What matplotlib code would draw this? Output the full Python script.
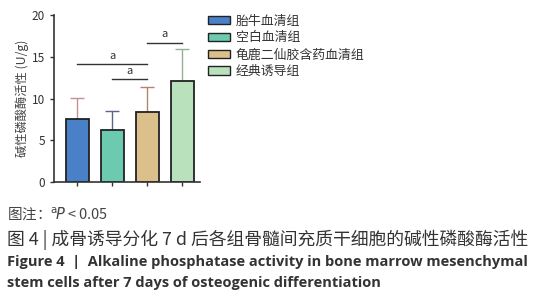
import matplotlib
matplotlib.use('Agg')
from matplotlib import pyplot as plt
from matplotlib.patches import Patch

plt.rcParams['font.family'] = ['Noto Sans CJK SC', 'DejaVu Sans']

# 数据
groups = ['胎牛血清组', '空白血清组', '龟鹿二仙胶含药血清组', '经典诱导组']
means = [7.5, 6.2, 8.4, 12.1]
errs = [2.6, 2.3, 3.0, 3.8]
colors = ['#4a80c8', '#6ccab0', '#dcc08c', '#b9e1bb']
err_colors = ['#c98f8f', '#5e6486', '#b3836f', '#98ae98']
yticks = [0, 5, 10, 15, 20]
# 显著性标注: (起点组, 终点组, 线的高度)
sig_pairs = [(0, 2, 14.1), (1, 2, 12.3), (2, 3, 16.7)]

fig = plt.figure(figsize=(5.42, 3.0), dpi=100)
ax = fig.add_axes([0.0996, 0.393, 0.27, 0.557])

x = list(range(len(groups)))
for i in x:
    ax.bar(i, means[i], width=0.66, color=colors[i], edgecolor='#222222',
           linewidth=1.3, zorder=2)
    ax.errorbar(i, means[i], yerr=[[0], [errs[i]]], fmt='none',
                ecolor=err_colors[i], elinewidth=1.0, capsize=5, capthick=1.0,
                zorder=1)

for a, b, h in sig_pairs:
    ax.plot([a, b], [h, h], color='#333333', linewidth=1.0)
    ax.text((a + b) / 2, h + 0.45, 'a', ha='center', va='bottom',
            fontsize=8, color='#333333')

ax.set_xlim(-0.66, 3.51)
ax.set_ylim(0, 20)
ax.set_yticks(yticks)
ax.set_xticks(x)
ax.set_xticklabels([])
ax.tick_params(axis='both', colors='#333333', labelsize=8.5, width=1.0, length=3)
ax.spines['top'].set_visible(False)
ax.spines['right'].set_visible(False)
for s in ['left', 'bottom']:
    ax.spines[s].set_linewidth(1.2)
    ax.spines[s].set_color('#333333')
ax.set_ylabel('碱性磷酸酶活性 (U/g)', fontsize=8.8, color='#444444', labelpad=2)

handles = [Patch(facecolor=c, edgecolor='#222222', linewidth=1.0) for c in colors]
fig.legend(handles, groups, loc='upper left', bbox_to_anchor=(0.362, 0.99),
           frameon=False, fontsize=9.3, handlelength=1.7, handleheight=0.65,
           labelspacing=0.3, handletextpad=0.45, labelcolor='#333333')

# 图注
fig.text(0.012, 0.285, '图注：$^{\\mathrm{a}}\\!\\it{P}$ < 0.05', fontsize=10.5,
         color='#444444', va='center')
fig.text(0.012, 0.2, '图 4 | 成骨诱导分化 7 d 后各组骨髓间充质干细胞的碱性磷酸酶活性',
         fontsize=12.8, color='#333333', va='center')
fig.text(0.012, 0.127, 'Figure 4  |  Alkaline phosphatase activity in bone marrow mesenchymal',
         fontsize=10.5, fontweight='bold', color='#333333', va='center',
         family=['Open Sans', 'DejaVu Sans'])
fig.text(0.012, 0.057, 'stem cells after 7 days of osteogenic differentiation',
         fontsize=10.5, fontweight='bold', color='#333333', va='center',
         family=['Open Sans', 'DejaVu Sans'])

fig.savefig('out.png', dpi=100)
